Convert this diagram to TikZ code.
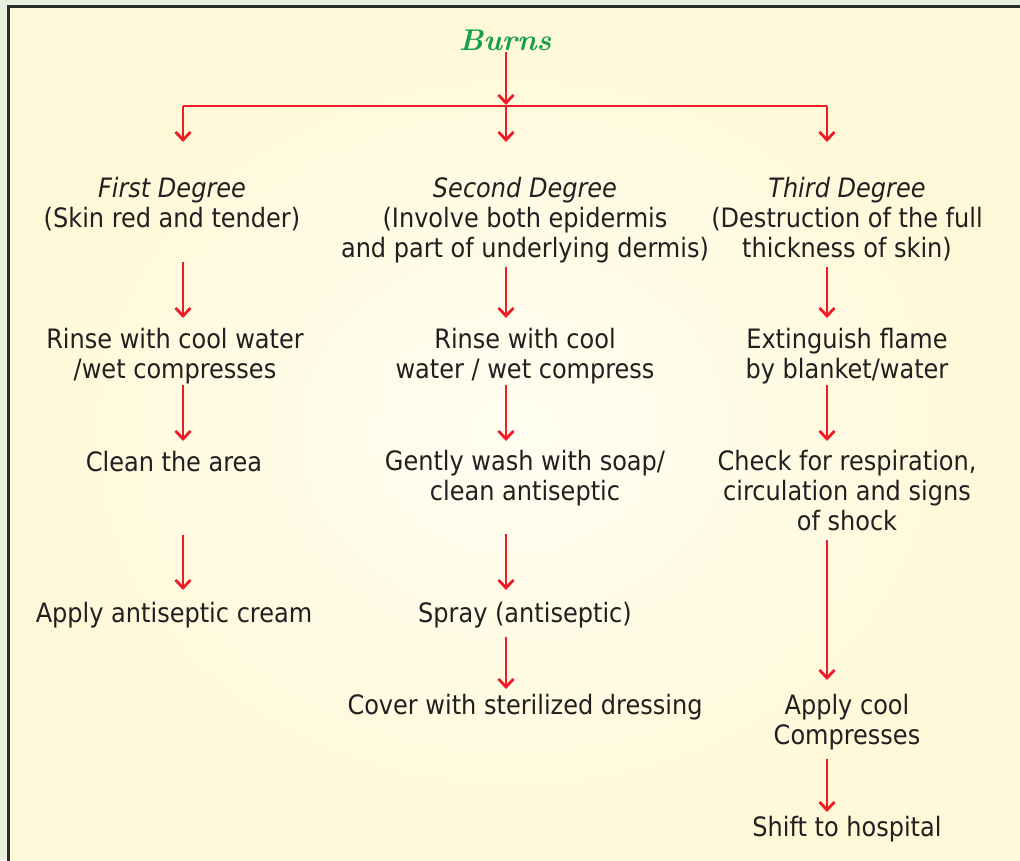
\documentclass[tikz,border=0pt]{standalone}
\usepackage{fontspec}
\usetikzlibrary{arrows.meta}
\newfontfamily\bodyfont{DejaVu Sans Condensed}
\definecolor{redc}{HTML}{EE1C25}
\definecolor{greenc}{HTML}{17A04A}
\definecolor{inkc}{HTML}{231F20}
\definecolor{framec}{HTML}{2B2B2B}
\definecolor{outsidec}{HTML}{E6EEDD}
\definecolor{paperout}{HTML}{FFF8D8}
\definecolor{paperin}{HTML}{FFFEF2}
\tikzset{
  txt/.style={anchor=north, inner sep=0pt, outer sep=0pt, align=center,
    text=inkc, font=\bodyfont\fontsize{26.7}{30}\selectfont,
    execute at begin node=\strut, execute at end node=\strut},
  redline/.style={draw=redc, line width=2.8pt},
  arr/.style={redline, -{Straight Barb[length=8pt,width=15pt]}}
}
\begin{document}
\begin{tikzpicture}[x=1pt,y=-1pt]
\useasboundingbox (0,0) rectangle (1020,860);
\clip (0,0) rectangle (1020,860);
% paper and frame
\fill[outsidec] (0,0) rectangle (1020,860);
\shade[inner color=paperin, outer color=paperout] (8,6) rectangle (1020,860);
\draw[framec, line width=3pt] (8,862) -- (8,6) -- (1022,6);

% column axes for the connectors
\coordinate (cL) at (183,0);
\coordinate (cM) at (506,0);
\coordinate (cR) at (827,0);
\coordinate (bar) at (506,106);

% title
\node[anchor=base, inner sep=0pt, text=greenc,
  font=\fontsize{30}{30}\selectfont\bfseries\itshape] (burns) at (505,50) {Burns};

% first row: degrees
\node[txt] (l1) at (172,177) {\textit{First Degree}\\(Skin red and tender)};
\node[txt] (m1) at (525,177) {\textit{Second Degree}\\(Involve both epidermis\\and part of underlying dermis)};
\node[txt] (r1) at (847,177) {\textit{Third Degree}\\(Destruction of the full\\thickness of skin)};

% second row
\node[txt] (l2) at (175,328) {Rinse with cool water\\/wet compresses};
\node[txt] (m2) at (525,328) {Rinse with cool\\water / wet compress};
\node[txt] (r2) at (847,328) {Extinguish flame\\by blanket/water};

% third row
\node[txt] (l3) at (174,450) {Clean the area};
\node[txt] (m3) at (525,450) {Gently wash with soap/\\clean antiseptic};
\node[txt] (r3) at (847,450) {Check for respiration,\\circulation and signs\\of shock};

% fourth row and below
\node[txt] (l4) at (174,601) {Apply antiseptic cream};
\node[txt] (m4) at (525,601) {Spray (antiseptic)};
\node[txt] (m5) at (525,693) {Cover with sterilized dressing};
\node[txt] (r4) at (847,694) {Apply cool\\Compresses};
\node[txt] (r5) at (847,815) {Shift to hospital};

% branching from the title
\draw[arr, shorten <=2pt, shorten >=1pt] (burns.south -| cM) -- (bar);
\draw[redline] (bar -| cL) -- (bar -| cR);
\draw[arr, shorten >=35pt] (bar -| cL) -- (l1.north -| cL);
\draw[arr, shorten >=35pt] (bar -| cM) -- (m1.north -| cM);
\draw[arr, shorten >=35pt] (bar -| cR) -- (r1.north -| cR);

% first degree chain
\draw[arr, shorten <=26pt, shorten >=10pt] (l1.south -| cL) -- (l2.north -| cL);
\draw[arr, shorten <=-2pt, shorten >=9pt] (l2.south -| cL) -- (l3.north -| cL);
\draw[arr, shorten <=55pt, shorten >=11pt] (l3.south -| cL) -- (l4.north -| cL);

% second degree chain
\draw[arr, shorten <=1pt, shorten >=10pt] (m1.south -| cM) -- (m2.north -| cM);
\draw[arr, shorten <=-2pt, shorten >=9pt] (m2.south -| cM) -- (m3.north -| cM);
\draw[arr, shorten <=25pt, shorten >=11pt] (m3.south -| cM) -- (m4.north -| cM);
\draw[arr, shorten <=6pt, shorten >=4pt] (m4.south -| cM) -- (m5.north -| cM);

% third degree chain
\draw[arr, shorten <=1pt, shorten >=10pt] (r1.south -| cR) -- (r2.north -| cR);
\draw[arr, shorten <=-2pt, shorten >=9pt] (r2.south -| cR) -- (r3.north -| cR);
\draw[arr, shorten <=1pt, shorten >=14pt] (r3.south -| cR) -- (r4.north -| cR);
\draw[arr, shorten <=6pt, shorten >=3pt] (r4.south -| cR) -- (r5.north -| cR);
\end{tikzpicture}
\end{document}
